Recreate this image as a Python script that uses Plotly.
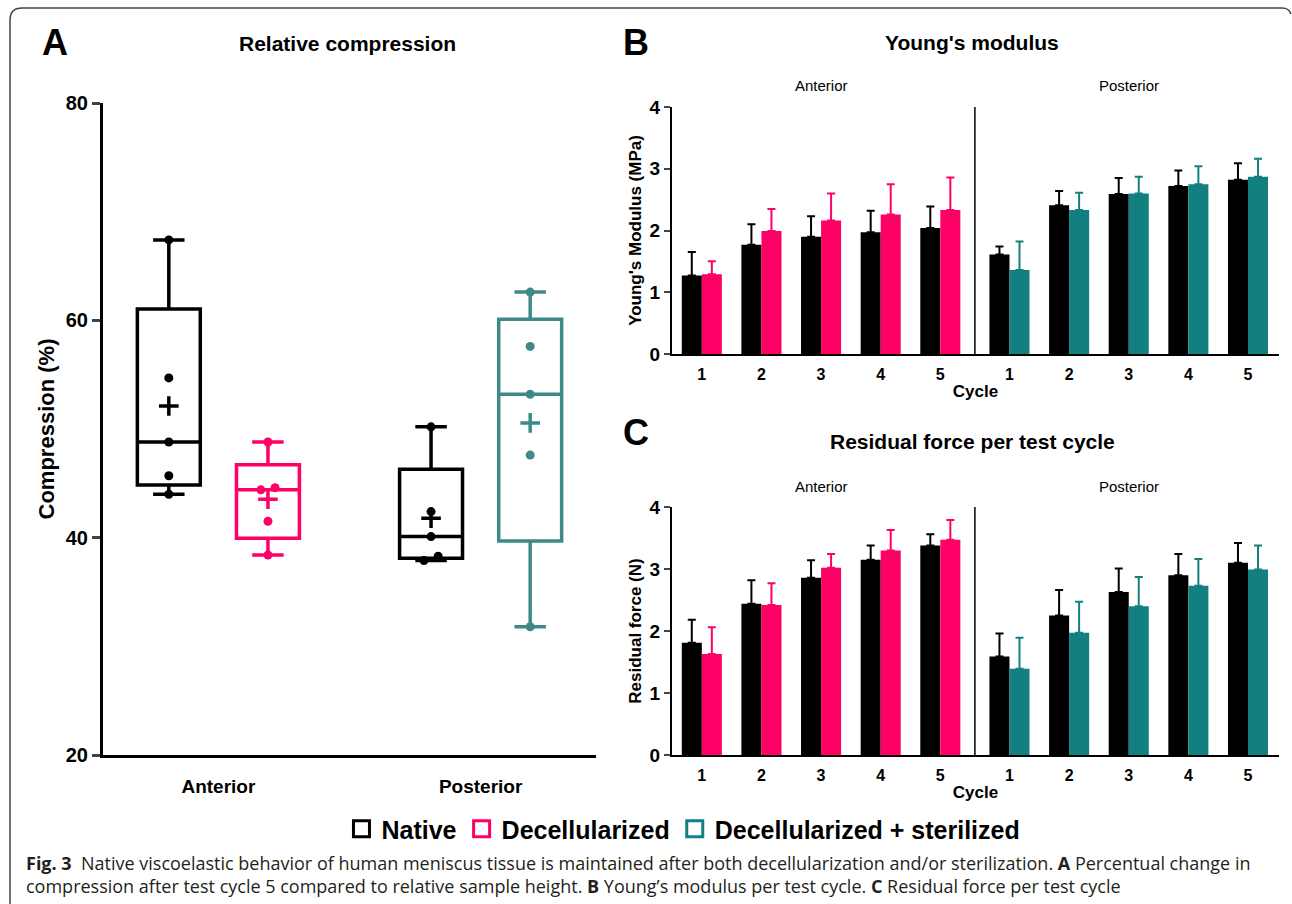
import plotly.graph_objects as go
import numpy as np

W, H = 1292, 904

# ---------------- data ----------------
# Panel A: relative compression (%) after cycle 5, n=5 per group
regions = ["Anterior", "Posterior"]
native_anterior = [44.0, 45.7, 48.8, 54.7, 67.4]
decell_anterior = [38.4, 41.5, 44.4, 44.6, 48.8]
native_posterior = [37.9, 38.3, 40.1, 42.4, 50.2]
steril_posterior = [31.8, 47.6, 53.2, 57.6, 62.6]

# Panels B/C: per test cycle, mean and SD (upper error only)
cycles = [1, 2, 3, 4, 5]
cycle_labels = ["1", "2", "3", "4", "5"]

ym_native_ant = [1.27, 1.77, 1.90, 1.97, 2.04]
ym_native_ant_sd = [0.38, 0.33, 0.33, 0.35, 0.35]
ym_decell_ant = [1.29, 1.99, 2.16, 2.26, 2.33]
ym_decell_ant_sd = [0.21, 0.36, 0.44, 0.49, 0.53]
ym_native_post = [1.61, 2.41, 2.59, 2.72, 2.82]
ym_native_post_sd = [0.13, 0.23, 0.26, 0.25, 0.27]
ym_steril_post = [1.36, 2.33, 2.60, 2.75, 2.87]
ym_steril_post_sd = [0.46, 0.28, 0.27, 0.29, 0.29]

rf_native_ant = [1.81, 2.44, 2.86, 3.15, 3.38]
rf_native_ant_sd = [0.37, 0.38, 0.28, 0.23, 0.18]
rf_decell_ant = [1.63, 2.42, 3.02, 3.30, 3.47]
rf_decell_ant_sd = [0.43, 0.35, 0.22, 0.33, 0.32]
rf_native_post = [1.59, 2.25, 2.63, 2.90, 3.10]
rf_native_post_sd = [0.37, 0.41, 0.38, 0.34, 0.32]
rf_steril_post = [1.39, 1.97, 2.40, 2.73, 2.99]
rf_steril_post_sd = [0.50, 0.50, 0.47, 0.43, 0.39]

series_names = ["Native", "Decellularized", "Decellularized + sterilized"]

# ---------------- styles ----------------
BLACK = "#000000"
PINK = "#FF0066"
TEAL_BAR = "#128080"
TEAL_BOX = "#3E8A88"
FONT = "Liberation Sans, Arial, sans-serif"


def px(x):
    return x / W


def py(y):
    return 1 - y / H


fig = go.Figure()


def spread_offsets(vals, tol=0.6, step=0.054):
    """GraphPad-like: points with (near) identical values are placed side by side."""
    order = np.argsort(vals)
    sv = np.asarray(vals)[order]
    offs = np.zeros(len(vals))
    i = 0
    while i < len(sv):
        j = i
        while j + 1 < len(sv) and sv[j + 1] - sv[j] < tol:
            j += 1
        k = j - i + 1
        for m in range(k):
            offs[order[i + m]] = (m - (k - 1) / 2) * step
        i = j + 1
    return offs


# ---------------- Panel A ----------------
box_off = 0.189
box_specs = [
    (native_anterior, 0, -box_off, BLACK),
    (decell_anterior, 0, box_off, PINK),
    (native_posterior, 1, -box_off, BLACK),
    (steril_posterior, 1, box_off, TEAL_BOX),
]
for data, gi, off, col in box_specs:
    pos = gi + off
    fig.add_trace(go.Box(
        y=data, x=[pos] * len(data), width=0.24,
        boxpoints=False,
        quartilemethod="exclusive", whiskerwidth=0.5,
        fillcolor="rgba(0,0,0,0)",
        line=dict(color=col, width=3.5),
        showlegend=False, xaxis="x", yaxis="y", hoverinfo="y",
    ))
    offs = spread_offsets(data)
    fig.add_trace(go.Scatter(
        x=[pos + o for o in offs], y=data, mode="markers",
        marker=dict(color=col, size=9),
        showlegend=False, xaxis="x", yaxis="y",
    ))
    fig.add_trace(go.Scatter(
        x=[pos], y=[float(np.mean(data))], mode="markers",
        marker=dict(symbol="cross-thin", size=14, line=dict(color=col, width=3.5)),
        showlegend=False, xaxis="x", yaxis="y",
    ))

# ---------------- Panels B & C ----------------
gap = 1.16
bw = 0.336
ant_x = list(cycles)
post_x = [c + 4 + gap for c in cycles]
divider = (ant_x[-1] + post_x[0]) / 2


def add_bars(xs, vals, sds, col, off, xa, ya):
    fig.add_trace(go.Bar(
        x=xs, y=vals, width=[bw] * len(xs), offset=[off] * len(xs),
        marker=dict(color=col, line=dict(width=0)),
        error_y=dict(type="data", symmetric=False, array=sds,
                     arrayminus=[0] * len(sds), color=col, thickness=2, width=4),
        showlegend=False, xaxis=xa, yaxis=ya,
    ))


panels = [
    ("x2", "y2", ym_native_ant, ym_native_ant_sd, ym_decell_ant, ym_decell_ant_sd,
     ym_native_post, ym_native_post_sd, ym_steril_post, ym_steril_post_sd),
    ("x3", "y3", rf_native_ant, rf_native_ant_sd, rf_decell_ant, rf_decell_ant_sd,
     rf_native_post, rf_native_post_sd, rf_steril_post, rf_steril_post_sd),
]
for xa, ya, na, nas, da, das, npo, nps, sp, sps in panels:
    add_bars(ant_x, na, nas, BLACK, -bw, xa, ya)
    add_bars(ant_x, da, das, PINK, 0, xa, ya)
    add_bars(post_x, npo, nps, BLACK, -bw, xa, ya)
    add_bars(post_x, sp, sps, TEAL_BAR, 0, xa, ya)

# legend entries (hollow squares)
for name, col in zip(series_names, [BLACK, PINK, TEAL_BAR]):
    fig.add_trace(go.Scatter(
        x=[None], y=[None], mode="markers", name=name,
        marker=dict(symbol="square-open", size=18, color=col,
                    line=dict(color=col, width=3)),
        xaxis="x", yaxis="y",
    ))

# ---------------- layout ----------------
A_dom_x = [px(103), px(596)]
A_dom_y = [py(755), py(103)]
BC_dom_x = [px(672), px(1279)]
B_dom_y = [py(354), py(107)]
C_dom_y = [py(755), py(507)]

xr_bc = [ant_x[0] - 0.5, post_x[-1] + 0.52]

axis_common = dict(showgrid=False, zeroline=False, showline=True, linecolor="black")


def cycle_xaxis(dom_y_anchor):
    return dict(domain=BC_dom_x, anchor=dom_y_anchor, range=xr_bc,
                tickvals=ant_x + post_x, ticktext=cycle_labels + cycle_labels,
                ticks="", linewidth=2, ticklabelstandoff=5,
                tickfont=dict(size=16, family=FONT, weight="bold"),
                title=dict(text="Cycle", standoff=3,
                           font=dict(size=17, family=FONT, weight="bold")),
                **axis_common)


def value_yaxis(dom, anchor, title):
    return dict(domain=dom, anchor=anchor, range=[0, 4],
                tickvals=[0, 1, 2, 3, 4], ticks="outside", ticklen=6, tickwidth=2,
                linewidth=2, tickfont=dict(size=19, family=FONT, weight="bold"),
                title=dict(text=title, standoff=4,
                           font=dict(size=17, family=FONT, weight="bold")),
                **axis_common)


fig.update_layout(
    width=W, height=H,
    margin=dict(l=0, r=0, t=0, b=0, autoexpand=False),
    paper_bgcolor="white", plot_bgcolor="white",
    font=dict(family=FONT, color="black"),
    barmode="overlay",
    xaxis=dict(domain=A_dom_x, anchor="y", range=[-0.44, 1.44],
               tickvals=[0, 1], ticktext=regions, ticks="", linewidth=3,
               tickfont=dict(size=19, family=FONT, weight="bold"),
               ticklabelstandoff=12, **axis_common),
    yaxis=dict(domain=A_dom_y, anchor="x", range=[20, 80],
               tickvals=[20, 40, 60, 80], ticks="outside", ticklen=8, tickwidth=3,
               linewidth=3, tickfont=dict(size=20, family=FONT, weight="bold"),
               title=dict(text="Compression (%)", standoff=6,
                          font=dict(size=22, family=FONT, weight="bold")),
               **axis_common),
    xaxis2=cycle_xaxis("y2"),
    yaxis2=value_yaxis(B_dom_y, "x2", "Young's Modulus (MPa)"),
    xaxis3=cycle_xaxis("y3"),
    yaxis3=value_yaxis(C_dom_y, "x3", "Residual force (N)"),
    legend=dict(orientation="h", x=0.529, xanchor="center", y=py(829), yanchor="middle",
                font=dict(size=25, family=FONT, weight="bold"),
                itemsizing="trace", itemwidth=30, tracegroupgap=0,
                bgcolor="rgba(0,0,0,0)"),
)

# divider lines
for xa, ya in [("x2", "y2"), ("x3", "y3")]:
    fig.add_shape(type="line", xref=xa, yref=ya, x0=divider, x1=divider, y0=0, y1=4.03,
                  line=dict(color="black", width=1.5))

# figure border (top + left, rounded corner)
r = 12
path = (f"M {px(10)},{py(904)} L {px(10)},{py(8 + r)} "
        f"Q {px(10)},{py(8)} {px(10 + r)},{py(8)} L {px(1282)},{py(8)} "
        f"Q {px(1289)},{py(8)} {px(1291)},{py(14)}")
fig.add_shape(type="path", xref="paper", yref="paper", path=path,
              line=dict(color="#444444", width=1.5))


def text(x, y, s, size, bold=True, xanchor="center", color="black", family=FONT):
    fig.add_annotation(x=px(x), y=py(y), xref="paper", yref="paper", text=s,
                       showarrow=False, xanchor=xanchor, yanchor="middle",
                       font=dict(size=size, family=family, color=color,
                                 weight="bold" if bold else "normal"))


text(55, 42, "A", 36)
text(636, 42, "B", 36)
text(636, 432, "C", 36)
text(347, 43, "Relative compression", 21)
text(972, 42, "Young's modulus", 21)
text(972, 441, "Residual force per test cycle", 21)

ant_center = float(np.mean(ant_x))
post_center = float(np.mean(post_x))
for xa, yy in [("x2", 86), ("x3", 486)]:
    for cx, lab in [(ant_center, "Anterior"), (post_center, "Posterior")]:
        fig.add_annotation(x=cx, xref=xa, y=py(yy), yref="paper", text=lab,
                           showarrow=False, yanchor="middle",
                           font=dict(size=15, family=FONT, color="black"))

CAP_FONT = "Open Sans, Noto Sans, sans-serif"
fig.add_annotation(
    x=px(24), y=py(863), xref="paper", yref="paper", xanchor="left", yanchor="middle",
    showarrow=False, align="left",
    text=("<b>Fig. 3</b>  Native viscoelastic behavior of human meniscus tissue is maintained "
          "after both decellularization and/or sterilization. <b>A</b> Percentual change in"),
    font=dict(size=18, family=CAP_FONT, color="#231F20"))
fig.add_annotation(
    x=px(24), y=py(886), xref="paper", yref="paper", xanchor="left", yanchor="middle",
    showarrow=False, align="left",
    text=("compression after test cycle 5 compared to relative sample height. "
          "<b>B</b> Young’s modulus per test cycle. <b>C</b> Residual force per test cycle"),
    font=dict(size=18, family=CAP_FONT, color="#231F20"))

fig.write_html("out.html", config={"displayModeBar": False},
               post_script="document.body.style.margin='0';document.body.style.overflow='hidden';")
